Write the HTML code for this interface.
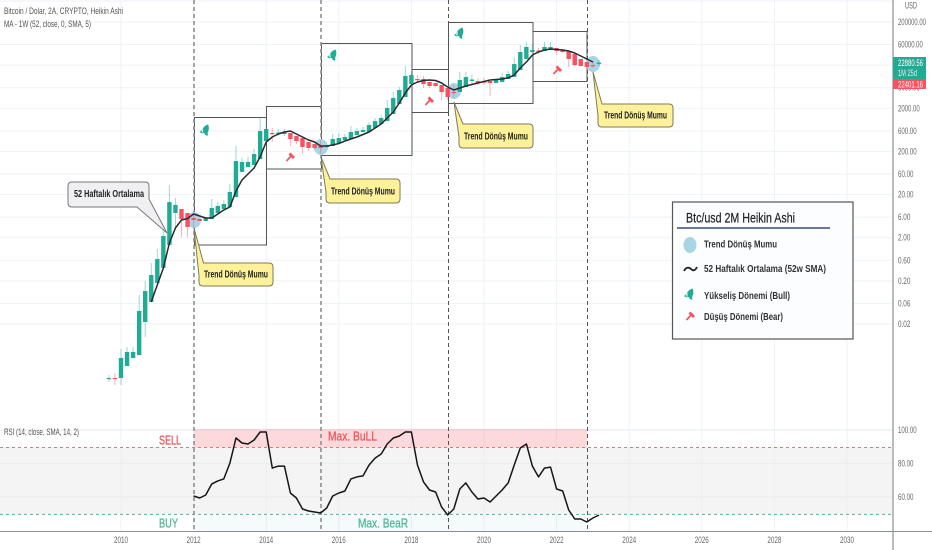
<!DOCTYPE html>
<html lang="tr">
<head>
<meta charset="utf-8">
<title>Bitcoin / Dolar 2A Heikin Ashi</title>
<style>
html,body{margin:0;padding:0;background:#fff;width:932px;height:550px;overflow:hidden}
svg{display:block;font-family:"Liberation Sans",sans-serif}
.call{font-size:10px;font-weight:bold;fill:#222;stroke:none}
.leg{font-size:10.5px;font-weight:bold;fill:#333}
.top{font-size:9.5px;fill:#555}
</style>
</head>
<body>
<svg id="chart" width="932" height="550" viewBox="0 0 932 550">
<rect x="0" y="0" width="932" height="550" fill="#fff"/>
<g id="grid"></g>
<line x1="0" y1="1" x2="892" y2="1" stroke="#edf2f7"/>
<g>
<rect x="0" y="448" width="892" height="66.5" fill="#ececed" fill-opacity=".6"/>
<rect x="194" y="429" width="393" height="18.5" fill="#f7525f" fill-opacity=".22"/>
<rect x="194" y="515" width="393" height="16" fill="#22ab94" fill-opacity=".05"/>
</g>
<g id="rsiLevels"></g>
<g fill="none" stroke="#555" stroke-width="1">
<rect x="194.5" y="117.5" width="72" height="127.5"/>
<rect x="266.5" y="106.5" width="55" height="62.5"/>
<rect x="321.5" y="43.5" width="90.5" height="112"/>
<rect x="412" y="69.5" width="36.5" height="43"/>
<rect x="448.5" y="22.5" width="84.5" height="81"/>
<rect x="533" y="31.5" width="54" height="50"/>
</g>
<g fill="none">
<line x1="194" y1="0" x2="194" y2="531" stroke="#8f8f8f" stroke-width="1.6" stroke-dasharray="4 3"/>
<line x1="321" y1="0" x2="321" y2="531" stroke="#8f8f8f" stroke-width="1.6" stroke-dasharray="4 3"/>
<line x1="448.5" y1="0" x2="448.5" y2="531" stroke="#555" stroke-width="1" stroke-dasharray="4 3"/>
<line x1="587.5" y1="0" x2="587.5" y2="531" stroke="#555" stroke-width="1" stroke-dasharray="4 3"/>
</g>
<g fill="#a8d4e6">
<ellipse cx="194" cy="220" rx="7" ry="8"/>
<ellipse cx="321" cy="147" rx="7" ry="8"/>
<ellipse cx="454" cy="91" rx="7" ry="8"/>
<ellipse cx="593" cy="64" rx="7" ry="8"/>
</g>
<g id="candles"></g>
<path id="maLine" fill="none" stroke="#2a2a2e" stroke-width="1.5" stroke-linejoin="round"/>
<path id="rsiLine" fill="none" stroke="#161616" stroke-width="1.5" stroke-linejoin="round"/>
<g>
<g transform="translate(205.5,130) rotate(25)" fill="#22ab94"><path d="M0-6C3.5-3 3.5 1 2.5 3.5H-2.5C-3.5 1-3.5-3 0-6ZM-2.5 0L-4.5 4.5H-1ZM2.5 0L4.5 4.5H1Z"/></g>
<g transform="translate(333,55) rotate(25)" fill="#22ab94"><path d="M0-6C3.5-3 3.5 1 2.5 3.5H-2.5C-3.5 1-3.5-3 0-6ZM-2.5 0L-4.5 4.5H-1ZM2.5 0L4.5 4.5H1Z"/></g>
<g transform="translate(460,33) rotate(25)" fill="#22ab94"><path d="M0-6C3.5-3 3.5 1 2.5 3.5H-2.5C-3.5 1-3.5-3 0-6ZM-2.5 0L-4.5 4.5H-1ZM2.5 0L4.5 4.5H1Z"/></g>
</g>
<g>
<g transform="translate(290,157)" stroke="#f7525f" fill="none"><line x1="-3.5" y1="4" x2="1.5" y2="-1.5" stroke-width="1.7"/><line x1="-.5" y1="-3.5" x2="4" y2="1" stroke-width="2.8"/></g>
<g transform="translate(429,101)" stroke="#f7525f" fill="none"><line x1="-3.5" y1="4" x2="1.5" y2="-1.5" stroke-width="1.7"/><line x1="-.5" y1="-3.5" x2="4" y2="1" stroke-width="2.8"/></g>
<g transform="translate(557,70)" stroke="#f7525f" fill="none"><line x1="-3.5" y1="4" x2="1.5" y2="-1.5" stroke-width="1.7"/><line x1="-.5" y1="-3.5" x2="4" y2="1" stroke-width="2.8"/></g>
</g>
<g stroke="#7f7a5a" stroke-width="1" fill="#fdf29a">
<path d="M194 228L203.5 263H269Q273 263 273 267V282Q273 286 269 286H203Q199 286 199 282V276Z"/>
<text class="call" x="204" y="277.5" textLength="64" lengthAdjust="spacingAndGlyphs">Trend Dönüş Mumu</text>
<path d="M321 157L330 179H396Q400 179 400 183V199Q400 203 396 203H330Q326 203 326 199V192Z"/>
<text class="call" x="331" y="194.5" textLength="64" lengthAdjust="spacingAndGlyphs">Trend Dönüş Mumu</text>
<path d="M454 102L463 124H529Q533 124 533 128V144Q533 148 529 148H463Q459 148 459 144V137Z"/>
<text class="call" x="464" y="139.5" textLength="64" lengthAdjust="spacingAndGlyphs">Trend Dönüş Mumu</text>
<path d="M593 72L602 104H669Q673 104 673 108V123Q673 127 669 127H602Q598 127 598 123V116Z"/>
<text class="call" x="604" y="118.5" textLength="63" lengthAdjust="spacingAndGlyphs">Trend Dönüş Mumu</text>
</g>
<path d="M72 182H145Q149 182 149 186V199L167 233L137 207H72Q68 207 68 203V186Q68 182 72 182Z" fill="#f0f0f3" stroke="#777" stroke-width="1"/>
<text class="call" x="74" y="197" textLength="70" lengthAdjust="spacingAndGlyphs">52 Haftalık Ortalama</text>
<g>
<rect x="672.5" y="202" width="180.5" height="137" fill="#fbfdff" stroke="#555" stroke-width="1.2"/>
<text x="686" y="222.5" font-size="13.5" fill="#222" stroke="#222" stroke-width=".2" textLength="109" lengthAdjust="spacingAndGlyphs">Btc/usd 2M Heikin Ashi</text>
<line x1="677" y1="228" x2="830" y2="228" stroke="#3a4a78" stroke-width="1.4"/>
<ellipse cx="690" cy="245" rx="6.5" ry="8" fill="#a8d4e6"/>
<text class="leg" x="704" y="247.5" textLength="73" lengthAdjust="spacingAndGlyphs">Trend Dönüş Mumu</text>
<path d="M684 271C686 267 689 267 691 269S695 271 697 267" fill="none" stroke="#222" stroke-width="1.8"/>
<text class="leg" x="704" y="272" textLength="122" lengthAdjust="spacingAndGlyphs">52 Haftalık Ortalama (52w SMA)</text>
<g transform="translate(690,294) rotate(25)" fill="#22ab94"><path d="M0-6C3.5-3 3.5 1 2.5 3.5H-2.5C-3.5 1-3.5-3 0-6ZM-2.5 0L-4.5 4.5H-1ZM2.5 0L4.5 4.5H1Z"/></g>
<text class="leg" x="704" y="299" textLength="86" lengthAdjust="spacingAndGlyphs">Yükseliş Dönemi (Bull)</text>
<g transform="translate(690,316)" stroke="#f7525f" fill="none"><line x1="-3.5" y1="4" x2="1.5" y2="-1.5" stroke-width="1.7"/><line x1="-.5" y1="-3.5" x2="4" y2="1" stroke-width="2.8"/></g>
<text class="leg" x="704" y="320" textLength="79" lengthAdjust="spacingAndGlyphs">Düşüş Dönemi (Bear)</text>
</g>
<text x="159" y="444.5" font-size="13" fill="#f0545c" stroke="#f0545c" stroke-width=".3" textLength="22" lengthAdjust="spacingAndGlyphs">SELL</text>
<text x="328" y="440.5" font-size="13" fill="#f0545c" stroke="#f0545c" stroke-width=".3" textLength="49" lengthAdjust="spacingAndGlyphs">Max. BuLL</text>
<text x="159" y="527.5" font-size="13" fill="#4fb896" stroke="#4fb896" stroke-width=".3" textLength="19" lengthAdjust="spacingAndGlyphs">BUY</text>
<text x="358" y="527.5" font-size="13" fill="#4fb896" stroke="#4fb896" stroke-width=".3" textLength="50" lengthAdjust="spacingAndGlyphs">Max. BeaR</text>
<text class="top" x="4" y="14" textLength="119" lengthAdjust="spacingAndGlyphs">Bitcoin / Dolar, 2A, CRYPTO, Heikin Ashi</text>
<text class="top" x="4" y="27" textLength="87" lengthAdjust="spacingAndGlyphs">MA - 1W (52, close, 0, SMA, 5)</text>
<text class="top" x="4" y="435" textLength="75" lengthAdjust="spacingAndGlyphs">RSI (14, close, SMA, 14, 2)</text>
<line x1="0" y1="531.5" x2="932" y2="531.5" stroke="#8a8e96" stroke-width="1"/>
<line x1="893" y1="0" x2="893" y2="550" stroke="#8a8e96" stroke-width="1.2"/>
<g id="axisLabels" font-size="9" fill="#666"></g>
<text x="905" y="8.5" font-size="9" fill="#666" textLength="12" lengthAdjust="spacingAndGlyphs">USD</text>
<g>
<rect x="893" y="57" width="33" height="22" fill="#22ab94"/>
<text x="898" y="66" font-size="9" fill="#fff" textLength="25" lengthAdjust="spacingAndGlyphs">22880.56</text>
<text x="898" y="76" font-size="9.5" fill="#d6f1ec" textLength="19" lengthAdjust="spacingAndGlyphs">1M 25d</text>
<rect x="893" y="79" width="33" height="10" fill="#f7525f"/>
<text x="898" y="87.3" font-size="9" fill="#fff" textLength="25" lengthAdjust="spacingAndGlyphs">22401.16</text>
</g>
</svg>
<script>
const barDates = ['2009-09','2009-11','2010-01','2010-03','2010-05','2010-07','2010-09','2010-11','2011-01','2011-03','2011-05','2011-07','2011-09','2011-11','2012-01','2012-03','2012-05','2012-07','2012-09','2012-11','2013-01','2013-03','2013-05','2013-07','2013-09','2013-11','2014-01','2014-03','2014-05','2014-07','2014-09','2014-11','2015-01','2015-03','2015-05','2015-07','2015-09','2015-11','2016-01','2016-03','2016-05','2016-07','2016-09','2016-11','2017-01','2017-03','2017-05','2017-07','2017-09','2017-11','2018-01','2018-03','2018-05','2018-07','2018-09','2018-11','2019-01','2019-03','2019-05','2019-07','2019-09','2019-11','2020-01','2020-03','2020-05','2020-07','2020-09','2020-11','2021-01','2021-03','2021-05','2021-07','2021-09','2021-11','2022-01','2022-03','2022-05','2022-07','2022-09','2022-11','2023-01','2023-03'];
const opens = [.00109,.00112,.00112,.00212,.00326,.00382,.0222,.065,.178,.40,1.36,7.48,9.25,7.48,5.73,5.43,4.88,5.43,7.48,9.25,10.3,17.5,67,87,97,133,349,535,520,507,535,455,409,330,297,267,253,267,313,368,388,481,564,564,698,865,1010,1470,2510,3650,7310,9550,9550,8130,7710,6930,5900,4770,4770,6220,8570,8570,8350,8570,7710,8130,9550,10600,15400,27800,40300,43700,42600,44900,49900,44900,42600,36300,27800,23700,20100,21200];
const highs = [.00131,.00146,.00526,.00586,.00586,.094,.198,.52,1.09,3.74,33,16.6,9.25,7.48,7.48,5.43,6.05,15.8,13.4,15,35,267,141,149,228,1190,961,698,662,662,535,455,409,330,297,368,282,507,535,507,776,698,736,961,1190,1400,3110,4770,6220,19100,13900,11800,11200,8130,7710,6930,5900,6930,13900,13900,11800,10100,10100,8570,9550,13200,14600,29300,58700,68700,61800,49900,68700,68700,49900,44900,42600,36300,27800,23700,25000,26300];
const lows = [.00090,.00077,.00077,.00212,.00326,.00382,.00998,.065,.178,.40,1.36,3.02,2.07,2.07,3.36,4.88,4.88,5.43,7.48,9.25,10.3,17.5,67,87,97,133,349,330,455,455,267,297,174,205,216,184,253,267,313,368,388,481,564,564,698,865,1010,1470,2510,3650,7310,7710,5900,5900,6220,3110,3110,3460,4770,6220,7310,6930,6930,3850,7710,8130,9550,10600,15400,27800,40300,36300,42600,44900,34400,38300,18100,19100,18100,13900,17100,19100];
const closes = [.00112,.00109,.00326,.00449,.00449,.040,.116,.273,.64,2.19,13.4,11.5,5.43,3.55,5.15,4.88,5.73,9.76,10.9,12.1,23,120,114,114,174,595,662,520,549,564,388,349,253,240,240,240,267,388,409,432,564,595,628,820,1010,1190,2030,3460,5310,11200,11800,9060,7310,6560,6560,4770,3650,4650,9060,10600,9300,7710,8130,7710,9060,10600,12500,21200,40300,52700,44900,41400,52700,52700,42600,40300,27800,20100,19100,18100,19100,22880];
const maFirstBar = 7;
const maValues = [.065,.160,.40,1.51,3.36,5.15,5.57,7.08,6.37,5.73,5.73,7.08,8.76,10.3,24.2,43.6,60,82.6,149,330,432,507,564,595,507,432,368,330,267,267,282,305,349,388,432,493,564,698,865,1190,1640,2650,4520,6930,8130,8810,9060,8810,7710,6220,5310,5900,6560,7110,7710,8350,9060,9300,9550,10100,11800,17200,23700,34400,40300,44900,47300,46100,44900,42600,38200,32600,27800,23700];
const rsiFirstBar = 14;
const rsiValues = [60.5,59.3,61.1,67.7,69.5,70.7,80.2,95.2,92.2,91.6,94,98.8,98.8,77.2,78.4,78.4,62.3,59.3,52.7,51.5,50.9,50.3,53.3,60.5,62.3,63.5,70.7,71.9,72.5,79,83.2,85.6,91.6,95.2,96.4,98.8,98.8,79,68.9,64.1,62.9,53.9,49.1,52.7,64.7,68.3,62.9,58.7,59.3,56.9,60.5,64.1,68.3,79,89.2,91.6,78.4,71.9,77.2,77.8,64.7,63.5,52.1,46.7,46.7,44.9,47.3,49.1];
const yearTicks = [2010,2012,2014,2016,2018,2020,2022,2024,2026,2028,2030];
const priceTicks = [200000,60000,20000,6000,2000,600,200,60,20,6,2,0.6,0.2,0.06,0.02];
const rsiTicks = [100,80,60];
const rsiUpperLevel = 89.5;
const rsiLowerLevel = 49.5;

const NS = 'http://www.w3.org/2000/svg';
const xYear = t => 121 + (t - 2010) * 36.3;
const xBar = s => xYear(+s.slice(0, 4) + (+s.slice(5, 7) - 1) / 12);
const yPrice = v => (5.811 - Math.log10(v)) / 0.02318;
const yRsi = v => 430 + (100 - v) * 1.67;
const make = (tag, parent) => { const e = document.createElementNS(NS, tag); parent.appendChild(e); return e; };

const grid = document.getElementById('grid');
yearTicks.forEach(t => {
  const l = make('line', grid);
  
  
  l.setAttribute('x1', xYear(t)); l.setAttribute('x2', xYear(t));
  l.setAttribute('y1', 0); l.setAttribute('y2', 531);
  l.setAttribute('stroke', '#edf2f7');
});
priceTicks.forEach(v => {
  const l = make('line', grid);
  
  
  l.setAttribute('x1', 0); l.setAttribute('x2', 892);
  l.setAttribute('y1', yPrice(v)); l.setAttribute('y2', yPrice(v));
  l.setAttribute('stroke', '#edf2f7');
});
rsiTicks.forEach(v => {
  const l = make('line', grid);
  
  
  l.setAttribute('x1', 0); l.setAttribute('x2', 892);
  l.setAttribute('y1', yRsi(v)); l.setAttribute('y2', yRsi(v));
  l.setAttribute('stroke', '#e6ebf1');
});

const levels = document.getElementById('rsiLevels');
const upper = make('line', levels);


upper.setAttribute('x1', 0); upper.setAttribute('x2', 892);
upper.setAttribute('y1', yRsi(rsiUpperLevel)); upper.setAttribute('y2', yRsi(rsiUpperLevel));
upper.setAttribute('stroke', '#f0707a'); upper.setAttribute('stroke-dasharray', '3 3');
const lower = make('line', levels);


lower.setAttribute('x1', 0); lower.setAttribute('x2', 892);
lower.setAttribute('y1', yRsi(rsiLowerLevel)); lower.setAttribute('y2', yRsi(rsiLowerLevel));
lower.setAttribute('stroke', '#4fb896'); lower.setAttribute('stroke-dasharray', '3 3');

const candles = document.getElementById('candles');
barDates.forEach((d, i) => {
  const up = closes[i] >= opens[i];
  const color = up ? '#22ab94' : '#f7525f';
  const x = xBar(d);
  const wick = make('line', candles);
  
  
  wick.setAttribute('x1', x); wick.setAttribute('x2', x);
  wick.setAttribute('y1', yPrice(highs[i])); wick.setAttribute('y2', yPrice(lows[i]));
  wick.setAttribute('stroke', color); wick.setAttribute('stroke-opacity', '.45');
  const top = yPrice(Math.max(opens[i], closes[i]));
  const bot = yPrice(Math.min(opens[i], closes[i]));
  const body = make('rect', candles);
  
  
  body.setAttribute('x', x - 2.2); body.setAttribute('width', 4.4);
  body.setAttribute('y', top); body.setAttribute('height', Math.max(1.2, bot - top));
  body.setAttribute('fill', color);
});

document.getElementById('maLine').setAttribute('d', maValues.map((v, i) =>
  (i ? 'L' : 'M') + xBar(barDates[maFirstBar + i]).toFixed(1) + ' ' + yPrice(v).toFixed(1)).join(''));
document.getElementById('rsiLine').setAttribute('d', rsiValues.map((v, i) =>
  (i ? 'L' : 'M') + xBar(barDates[rsiFirstBar + i]).toFixed(1) + ' ' + yRsi(v).toFixed(1)).join(''));

const axis = document.getElementById('axisLabels');
yearTicks.forEach(t => {
  const e = make('text', axis);
  
  
  e.setAttribute('x', xYear(t) - 7); e.setAttribute('y', 543);
  e.setAttribute('textLength', 14); e.setAttribute('lengthAdjust', 'spacingAndGlyphs');
  e.textContent = t;
});
priceTicks.forEach(v => {
  const s = v.toFixed(2);
  const e = make('text', axis);
  
  
  e.setAttribute('x', 898); e.setAttribute('y', yPrice(v) + 3);
  e.setAttribute('textLength', s.length * 3.1); e.setAttribute('lengthAdjust', 'spacingAndGlyphs');
  e.textContent = s;
});
rsiTicks.forEach(v => {
  const s = v.toFixed(2);
  const e = make('text', axis);
  
  
  e.setAttribute('x', 898); e.setAttribute('y', yRsi(v) + 3);
  e.setAttribute('textLength', s.length * 3.1); e.setAttribute('lengthAdjust', 'spacingAndGlyphs');
  e.textContent = s;
});
</script>
</body>
</html>
